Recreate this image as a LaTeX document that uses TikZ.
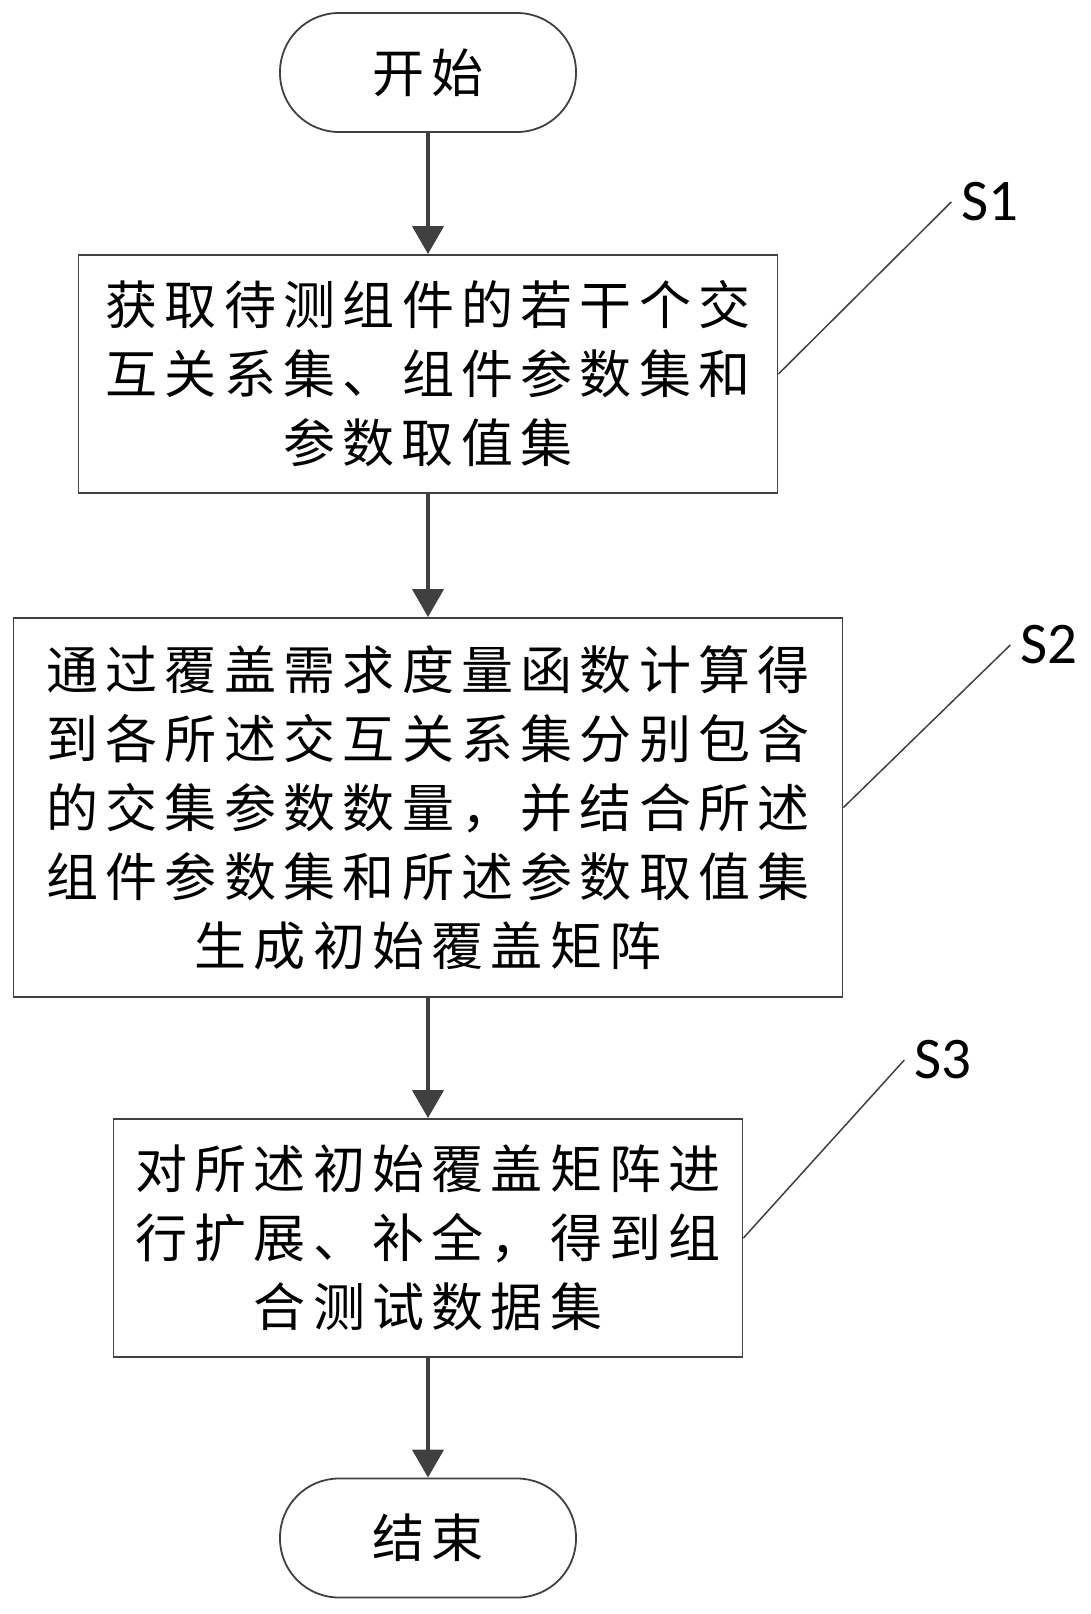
\documentclass[tikz,border=0pt]{standalone}
\usepackage{fontspec}
\usetikzlibrary{arrows.meta}
\newfontfamily\cjk[LetterSpace=14]{Noto Sans CJK SC}
\newfontfamily\latin{Carlito}
\definecolor{linegray}{HTML}{404040}
\tikzstyle{arrow} = [line width=4pt,-{Triangle[width=31pt,length=28pt]},draw=linegray,fill=linegray]
\tikzstyle{terminal} = [draw=linegray,line width=1.8pt,rounded corners=59pt,minimum width=296pt,minimum height=119pt,font=\cjk\fontsize{52}{69}\selectfont]
\tikzstyle{procbox} = [draw=linegray,line width=1.8pt,align=center,inner sep=0pt,font=\cjk\fontsize{52}{69}\selectfont]
\tikzstyle{steplabel} = [font=\latin\fontsize{59}{59}\selectfont,inner sep=10pt]
\tikzstyle{leader} = [draw=linegray,line width=1.5pt]

\begin{document}
\begin{tikzpicture}[x=1pt,y=-1pt]
        \useasboundingbox (0,0) rectangle (1090,1614);
        \node[terminal] (start) at (428,72.5) {开始};
        \node[procbox,minimum width=699pt,minimum height=238pt] (s1) at (428,374) {获取待测组件的若干个交\\互关系集、组件参数集和\\参数取值集};
        \node[procbox,minimum width=829pt,minimum height=379pt] (s2) at (428,807.5) {通过覆盖需求度量函数计算得\\到各所述交互关系集分别包含\\的交集参数数量，并结合所述\\组件参数集和所述参数取值集\\生成初始覆盖矩阵};
        \node[procbox,minimum width=629pt,minimum height=238pt] (s3) at (428,1238) {对所述初始覆盖矩阵进\\行扩展、补全，得到组\\合测试数据集};
        \node[terminal] (stop) at (428,1538) {结束};

        \node[steplabel] (l1) at (990,202) {S1};
        \node[steplabel] (l2) at (1049,645) {S2};
        \node[steplabel] (l3) at (943,1060) {S3};

        % Flow arrows
        \draw[arrow] (start) -- (s1);
        \draw[arrow] (s1) -- (s2);
        \draw[arrow] (s2) -- (s3);
        \draw[arrow] (s3) -- (stop);

        % Step labels
        \draw[leader] (s1.east) -- (l1.west);
        \draw[leader] (s2.east) -- (l2.west);
        \draw[leader] (s3.east) -- (l3.west);
\end{tikzpicture}
\end{document}
